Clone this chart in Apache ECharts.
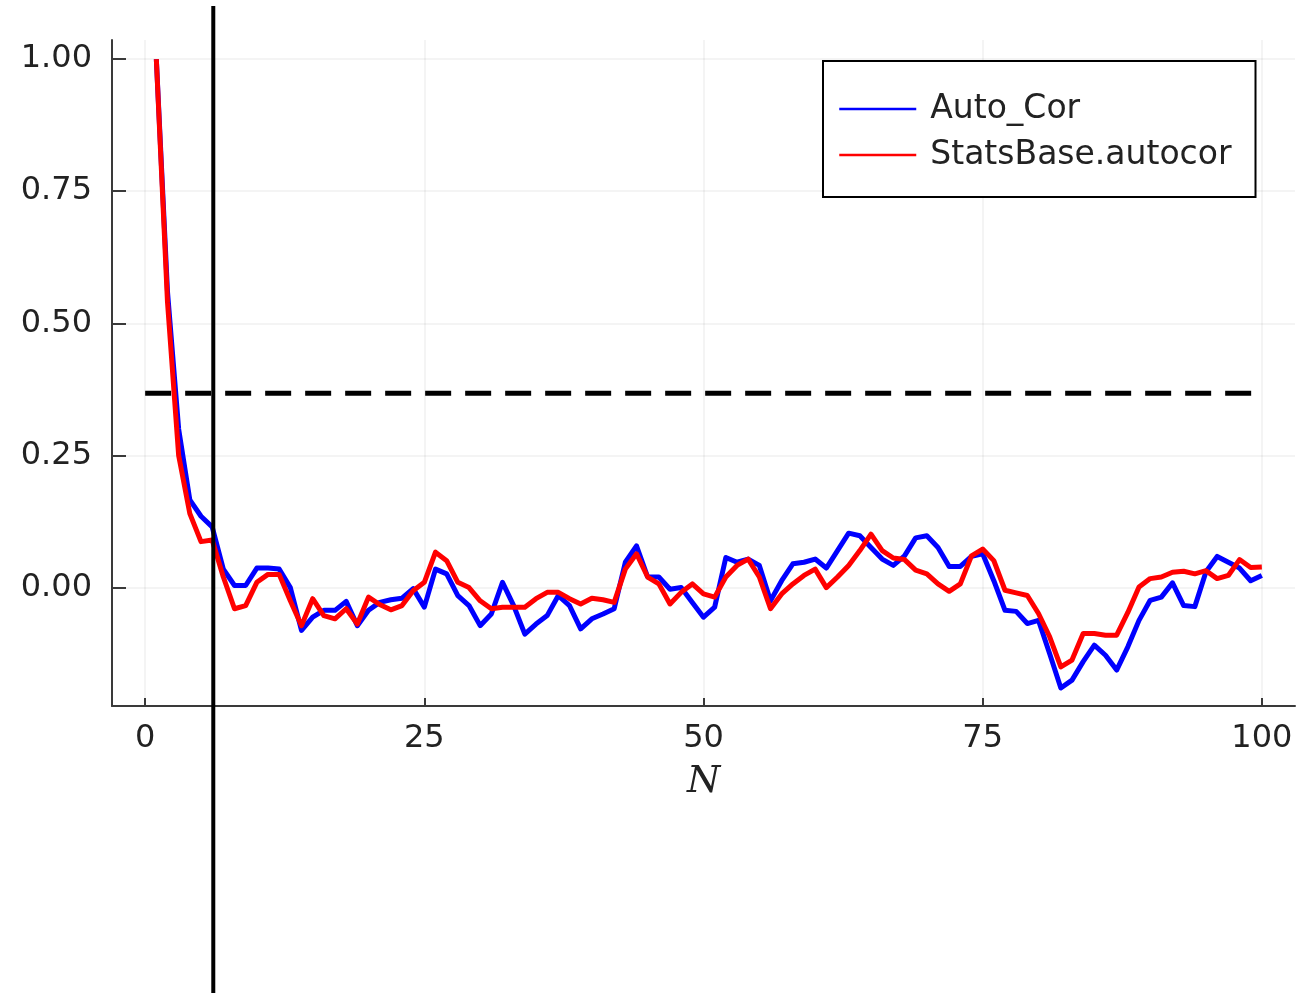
<!DOCTYPE html>
<html>
<head>
<meta charset="utf-8">
<script src="https://cdn.jsdelivr.net/npm/echarts@6/dist/echarts.min.js"></script>
<style>
html,body{margin:0;padding:0;background:#fff;}
#chart{width:1311px;height:993px;}
</style>
</head>
<body>
<div id="chart"></div>
<script>
// lags N = 1..100
const lags = Array.from({length: 100}, (_, i) => i + 1);

const autoCor = [
  1.0, 0.56, 0.30, 0.166, 0.135, 0.115, 0.035, 0.004, 0.004, 0.037,
  0.037, 0.035, 0.0, -0.081, -0.056, -0.043, -0.043, -0.026, -0.072, -0.043,
  -0.028, -0.023, -0.02, -0.002, -0.037, 0.035, 0.026, -0.015, -0.034, -0.072,
  -0.05, 0.01, -0.034, -0.088, -0.069, -0.053, -0.015, -0.034, -0.078, -0.059,
  -0.05, -0.04, 0.048, 0.079, 0.02, 0.02, -0.003, 0.0, -0.028, -0.056,
  -0.037, 0.057, 0.048, 0.054, 0.042, -0.025, 0.013, 0.045, 0.048, 0.054,
  0.037, 0.07, 0.103, 0.098, 0.076, 0.054, 0.042, 0.06, 0.094, 0.098,
  0.076, 0.04, 0.04, 0.059, 0.064, 0.013, -0.043, -0.045, -0.068, -0.062,
  -0.125, -0.19, -0.175, -0.14, -0.109, -0.128, -0.156, -0.112, -0.062, -0.024,
  -0.018, 0.009, -0.034, -0.036, 0.03, 0.059, 0.048, 0.037, 0.013, 0.023
];

const statsBase = [
  1.0, 0.54, 0.25, 0.14, 0.087, 0.09, 0.02, -0.04, -0.034, 0.01,
  0.025, 0.025, -0.025, -0.072, -0.021, -0.053, -0.059, -0.04, -0.069, -0.018,
  -0.032, -0.042, -0.034, -0.006, 0.01, 0.067, 0.051, 0.01, 0.0, -0.025,
  -0.04, -0.037, -0.037, -0.037, -0.021, -0.009, -0.009, -0.021, -0.031, -0.02,
  -0.023, -0.028, 0.035, 0.064, 0.02, 0.007, -0.031, -0.009, 0.007, -0.012,
  -0.018, 0.02, 0.042, 0.054, 0.02, -0.04, -0.012, 0.007, 0.023, 0.035,
  0.0, 0.02, 0.042, 0.07, 0.101, 0.07, 0.056, 0.053, 0.033, 0.026,
  0.007, -0.007, 0.007, 0.06, 0.073, 0.051, -0.005, -0.01, -0.015, -0.049,
  -0.093, -0.15, -0.137, -0.087, -0.087, -0.09, -0.09, -0.047, 0.001, 0.017,
  0.02, 0.029, 0.031, 0.026, 0.032, 0.017, 0.023, 0.053, 0.038, 0.039
];

const xTicks = [0, 25, 50, 75, 100];
const yTicks = [0, 0.25, 0.5, 0.75, 1.0];
const hlineValue = 1 / Math.E;      // dashed threshold
const hlineSpan = [0, 100];
const vlineX = 6.1;                  // vertical marker
const seriesNames = ['Auto_Cor', 'StatsBase.autocor'];

const FONT = 'DejaVu Sans';
const chart = echarts.init(document.getElementById('chart'), null, {renderer: 'canvas'});

const option = {
  animation: false,
  backgroundColor: '#ffffff',
  grid: [
    {left: 112, right: 16, top: 40, bottom: 287, containLabel: false},
    {left: 112, right: 16, top: 6, bottom: 0, containLabel: false}
  ],
  legend: {
    data: seriesNames,
    orient: 'vertical',
    left: 823,
    top: 61,
    padding: [28, 24, 22, 15],
    itemGap: 6,
    itemWidth: 77,
    itemHeight: 40,
    backgroundColor: '#ffffff',
    borderColor: '#000000',
    borderWidth: 2,
    borderRadius: 0,
    lineStyle: {width: 2.5},
    itemStyle: {opacity: 0},
    textStyle: {fontFamily: FONT, fontSize: 33, color: '#222', lineHeight: 40, padding: [0, 0, 0, 9]},
    selectedMode: false
  },
  xAxis: [
    {
      gridIndex: 0, type: 'value', min: -2.97, max: 102.97,
      name: 'N', nameLocation: 'middle', nameGap: 57,
      nameTextStyle: {fontFamily: 'DejaVu Serif', fontStyle: 'italic', fontSize: 38, color: '#222'},
      axisLine: {show: true, onZero: false, lineStyle: {color: '#3a3a3a', width: 2}},
      axisTick: {show: true, inside: true, length: 8, customValues: xTicks, lineStyle: {color: '#3a3a3a', width: 2}},
      axisLabel: {customValues: xTicks, margin: 17, fontFamily: FONT, fontSize: 32, color: '#222'},
      splitLine: {show: true, lineStyle: {color: 'rgba(0,0,0,0.06)', width: 1.5}}
    },
    {gridIndex: 1, type: 'value', min: -2.97, max: 102.97, show: false}
  ],
  yAxis: [
    {
      gridIndex: 0, type: 'value', min: -0.224, max: 1.036,
      axisLine: {show: true, onZero: false, lineStyle: {color: '#3a3a3a', width: 2}},
      axisTick: {show: true, inside: true, length: 14, customValues: yTicks, lineStyle: {color: '#3a3a3a', width: 2}},
      axisLabel: {customValues: yTicks, margin: 20, fontFamily: FONT, fontSize: 32, color: '#222',
        formatter: v => v.toFixed(2)},
      splitLine: {show: true, lineStyle: {color: 'rgba(0,0,0,0.06)', width: 1.5}}
    },
    {gridIndex: 1, type: 'value', min: 0, max: 1, show: false}
  ],
  series: [
    {
      name: seriesNames[0], type: 'line', xAxisIndex: 0, yAxisIndex: 0,
      data: lags.map((n, i) => [n, autoCor[i]]),
      symbol: 'none', color: '#0000ff',
      lineStyle: {color: '#0000ff', width: 5, join: 'round'}, z: 3
    },
    {
      name: seriesNames[1], type: 'line', xAxisIndex: 0, yAxisIndex: 0,
      data: lags.map((n, i) => [n, statsBase[i]]),
      symbol: 'none', color: '#ff0000',
      lineStyle: {color: '#ff0000', width: 5, join: 'round'}, z: 4
    },
    {
      name: 'threshold', type: 'line', xAxisIndex: 0, yAxisIndex: 0,
      data: hlineSpan.map(x => [x, hlineValue]),
      symbol: 'none', color: '#000',
      lineStyle: {color: '#000000', width: 5, type: [26, 14]}, z: 5
    },
    {
      name: 'vline', type: 'line', xAxisIndex: 1, yAxisIndex: 1,
      data: [[vlineX, 0], [vlineX, 1]],
      symbol: 'none', color: '#000', clip: false,
      lineStyle: {color: '#000000', width: 4}, z: 6
    }
  ]
};
chart.setOption(option);
</script>
</body>
</html>
